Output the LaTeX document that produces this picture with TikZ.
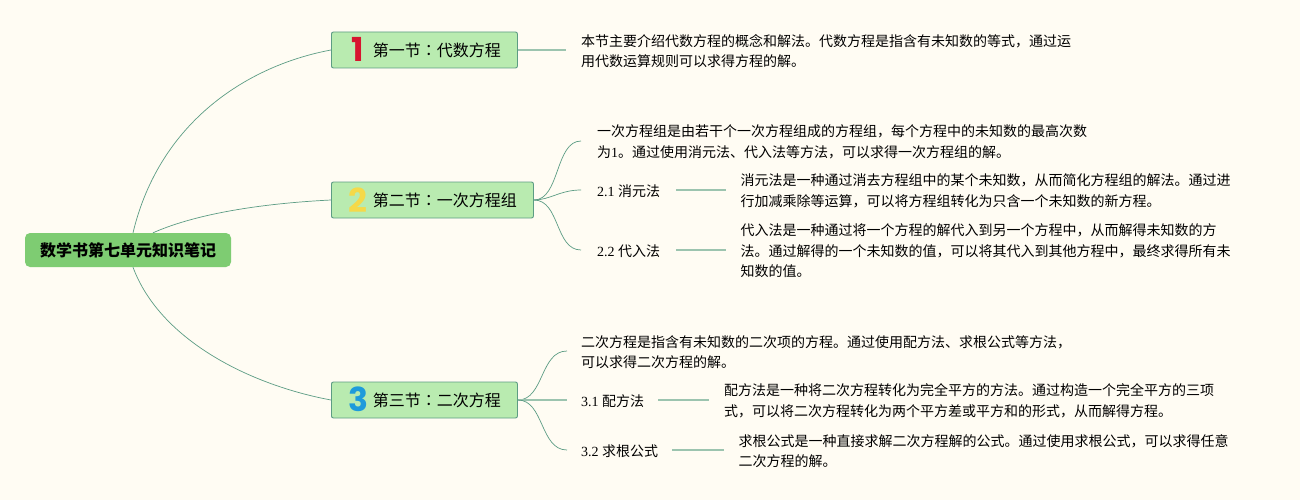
\documentclass[tikz,border=0pt]{standalone}
\usepackage{fontspec}
\setmainfont{Noto Sans CJK SC}
\newfontfamily\numfont{Liberation Serif}
\newfontfamily\badgefont{Poppins}
\newfontfamily\colonfont{Noto Sans CJK TC}
\newcommand{\nm}[1]{{\numfont #1}}
\newcommand{\cln}{{\colonfont ：}}
\newcommand{\sectxt}[1]{\hspace*{25pt}\raisebox{-1pt}{#1}}
\definecolor{paper}{HTML}{FFFCF3}
\definecolor{rootgreen}{HTML}{7ECC72}
\definecolor{secgreen}{HTML}{B9EBB0}
\definecolor{secedge}{HTML}{5C9C84}
\definecolor{stemline}{HTML}{9CC4AF}
\definecolor{badgered}{HTML}{D7152F}
\definecolor{badgeyellow}{HTML}{F5D949}
\definecolor{badgeblue}{HTML}{1E9BDB}
\tikzset{
  rootbox/.style={fill=rootgreen,rounded corners=5pt,minimum width=206pt,minimum height=34pt,inner sep=0pt,font=\fontsize{16}{20}\selectfont\bfseries},
  secbox/.style={draw=secedge,fill=secgreen,line width=0.9pt,rounded corners=2pt,anchor=west,minimum height=36pt,inner ysep=0pt,font=\fontsize{16}{20}\selectfont},
  leaf/.style={anchor=west,inner xsep=15pt,inner ysep=0pt,align=left,font=\fontsize{14}{20.5}\selectfont},
  badge/.style={inner sep=0pt,font=\fontsize{33}{33}\selectfont\badgefont\bfseries},
  curve/.style={draw=secedge,line width=0.7pt},
  stem/.style={draw=stemline,line width=1.1pt}
}
\begin{document}
\begin{tikzpicture}[x=1pt,y=-1pt]
  \fill[paper] (0,0) rectangle (1300,500);
  \useasboundingbox (0,0) rectangle (1300,500);
  % root and sections
  \node[rootbox] (root) at (128,250) {\raisebox{-1pt}{数学书第七单元知识笔记}};
  \node[secbox,inner xsep=16.5pt] (sec1) at (331,50) {\sectxt{第一节\cln 代数方程}};
  \node[secbox,inner xsep=16.5pt] (sec2) at (331,200) {\sectxt{第二节\cln 一次方程组}};
  \node[secbox,inner xsep=16.5pt] (sec3) at (331,400) {\sectxt{第三节\cln 二次方程}};
  \node[badge,text=badgered] (num1) at (358,49) {1};
  \node[badge,text=badgeyellow] (num2) at (358,200) {2};
  \node[badge,text=badgeblue] (num3) at (358,399) {3};
  % first section
  \node[leaf] (intro) at (566,51) {本节主要介绍代数方程的概念和解法。代数方程是指含有未知数的等式，通过运\\用代数运算规则可以求得方程的解。};
  % second section
  \node[leaf,inner xsep=16pt] (lin) at (581,142) {一次方程组是由若干个一次方程组成的方程组，每个方程中的未知数的最高次数\\为\nm{1}。通过使用消元法、代入法等方法，可以求得一次方程组的解。};
  \node[leaf,inner xsep=16pt] (elim) at (581,191) {\nm{2.1 }消元法};
  \node[leaf,inner xsep=16pt] (subst) at (581,251) {\nm{2.2 }代入法};
  \node[leaf] (elimtxt) at (725.5,191) {消元法是一种通过消去方程组中的某个未知数，从而简化方程组的解法。通过进\\行加减乘除等运算，可以将方程组转化为只含一个未知数的新方程。};
  \node[leaf] (substtxt) at (725.5,251) {代入法是一种通过将一个方程的解代入到另一个方程中，从而解得未知数的方\\法。通过解得的一个未知数的值，可以将其代入到其他方程中，最终求得所有未\\知数的值。};
  % third section
  \node[leaf,inner xsep=14pt] (quad) at (567,352) {二次方程是指含有未知数的二次项的方程。通过使用配方法、求根公式等方法，\\可以求得二次方程的解。};
  \node[leaf,inner xsep=14pt] (compl) at (567,401) {\nm{3.1 }配方法};
  \node[leaf,inner xsep=14pt] (formula) at (567,451) {\nm{3.2 }求根公式};
  \node[leaf] (compltxt) at (709,401) {配方法是一种将二次方程转化为完全平方的方法。通过构造一个完全平方的三项\\式，可以将二次方程转化为两个平方差或平方和的形式，从而解得方程。};
  \node[leaf] (formulatxt) at (723.5,451) {求根公式是一种直接求解二次方程解的公式。通过使用求根公式，可以求得任意\\二次方程的解。};
  % connectors
  \draw[curve] ([xshift=5pt]root.north) .. controls (160,120) and (250,65) .. (sec1.west);
  \draw[curve] ([xshift=25pt]root.north) .. controls (200,212) and (270,203) .. (sec2.west);
  \draw[curve] ([xshift=5pt]root.south) .. controls (160,340) and (250,385) .. (sec3.west);
  \draw[stem] (sec1.east) -- ([yshift=1pt]intro.west);
  \draw[curve] (sec2.east) .. controls (560,200) and (555,141) .. ([yshift=1pt]lin.west);
  \draw[curve] (sec2.east) .. controls (550,200) and (560,190) .. ([yshift=1pt]elim.west);
  \draw[curve] (sec2.east) .. controls (560,200) and (555,250) .. ([yshift=1pt]subst.west);
  \draw[stem] ([yshift=1pt]elim.east) -- ([yshift=1pt]elimtxt.west);
  \draw[stem] ([yshift=1pt]subst.east) -- ([yshift=1pt]substtxt.west);
  \draw[curve] (sec3.east) .. controls (544,400) and (540,351) .. ([yshift=1pt]quad.west);
  \draw[stem] (sec3.east) -- ([yshift=1pt]compl.west);
  \draw[curve] (sec3.east) .. controls (544,400) and (540,450) .. ([yshift=1pt]formula.west);
  \draw[stem] ([yshift=1pt]compl.east) -- ([yshift=1pt]compltxt.west);
  \draw[stem] ([yshift=1pt]formula.east) -- ([yshift=1pt]formulatxt.west);
\end{tikzpicture}
\end{document}
